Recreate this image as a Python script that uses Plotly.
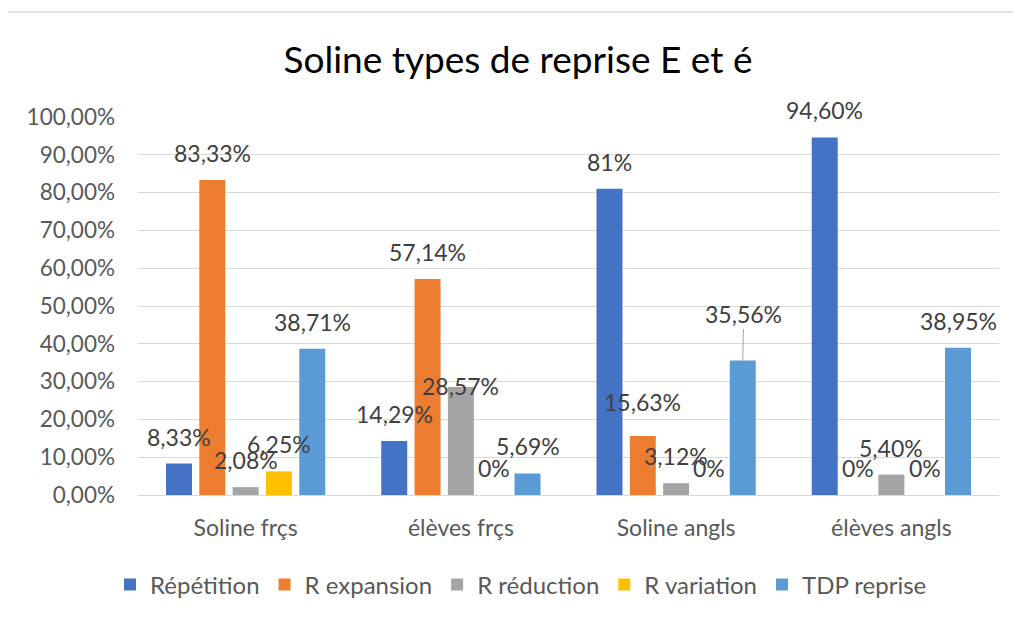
import plotly.graph_objects as go

categories = ["Soline frçs", "élèves frçs", "Soline angls", "élèves angls"]
series_names = ["Répétition", "R expansion", "R réduction", "R variation", "TDP reprise"]
repetition = [8.33, 14.29, 81.0, 94.60]
r_expansion = [83.33, 57.14, 15.63, 0.0]
r_reduction = [2.08, 28.57, 3.12, 5.40]
r_variation = [6.25, 0.0, 0.0, 0.0]
tdp_reprise = [38.71, 5.69, 35.56, 38.95]
y_ticks = [0, 10, 20, 30, 40, 50, 60, 70, 80, 90, 100]

series_values = [repetition, r_expansion, r_reduction, r_variation, tdp_reprise]
colors = ["#4472C4", "#ED7D31", "#A5A5A5", "#FFC000", "#5B9BD5"]

FONT = "Lato"
BARGAP = 0.226
GROUPGAP = 0.22
OFF = 8  # page body margin of the html page
W, H = 1021, 621


def fmt(v):
    if abs(v - round(v)) < 1e-9:
        return f"{int(round(v))}%"
    return f"{v:.2f}%".replace(".", ",")


fig = go.Figure()
for name, vals, col in zip(series_names, series_values, colors):
    fig.add_trace(go.Bar(
        name=name, x=categories, y=[v / 100 for v in vals],
        marker=dict(color=col, line=dict(width=0)),
    ))

# label offset overrides (series index, category index) -> yshift px
overrides = {(2, 1): 1, (1, 2): 34}
slot = (1 - BARGAP) / len(series_names)
label_font = dict(family=FONT, size=23, color="#404040")
annotations = []
for i, vals in enumerate(series_values):
    for k, v in enumerate(vals):
        xpos = k + (i - (len(series_names) - 1) / 2) * slot
        if (i, k) == (4, 2):
            annotations.append(dict(
                x=xpos, y=v / 100, xref="x", yref="y", text=fmt(v),
                showarrow=True, arrowhead=0, arrowwidth=1, arrowcolor="#A6A6A6",
                ax=1, ay=-47, standoff=0, font=label_font,
            ))
            continue
        annotations.append(dict(
            x=xpos, y=v / 100, xref="x", yref="y", text=fmt(v),
            showarrow=False, yanchor="middle", xanchor="center",
            yshift=overrides.get((i, k), 27), font=label_font,
        ))

# plot area in screen pixels: x 138..999, y 117..495
fig.update_layout(
    width=W, height=H,
    paper_bgcolor="white", plot_bgcolor="white",
    separators=", ",
    barmode="group", bargap=BARGAP, bargroupgap=GROUPGAP,
    margin=dict(l=138 - OFF, r=W + OFF - 999, t=117 - OFF, b=H + OFF - 495, autoexpand=False),
    title=dict(text="Soline types de reprise E et é",
               x=(518 - OFF) / W, y=1 - (60 - OFF) / H,
               xref="container", yref="container", xanchor="center", yanchor="middle",
               font=dict(family=FONT, size=37, color="#000000")),
    legend=dict(orientation="h", xref="container", yref="container",
                x=(521 - OFF) / W, y=1 - (585 - OFF) / H, xanchor="center", yanchor="middle",
                font=dict(family=FONT, size=24, color="#595959"),
                itemwidth=30, tracegroupgap=0),
    annotations=annotations,
    font=dict(family=FONT, color="#595959"),
    shapes=[dict(type="rect", xref="paper", yref="paper",
                 x0=(6 - 138) / 861, x1=(1060 - 138) / 861,
                 y0=(495 - 660) / 378, y1=(495 - 12) / 378,
                 line=dict(color="#D9D9D9", width=1.5), fillcolor="rgba(0,0,0,0)",
                 layer="below")],
)
fig.update_yaxes(range=[0, 1], tickvals=[t / 100 for t in y_ticks], tickformat=".2%",
                 showgrid=True, gridcolor="#D9D9D9", gridwidth=1, zeroline=False,
                 showline=False, ticks="", ticklabelstandoff=22,
                 tickfont=dict(family=FONT, size=22.5, color="#595959"))
fig.update_xaxes(showline=True, linecolor="#D9D9D9", linewidth=1, ticks="",
                 ticklabelstandoff=12,
                 tickfont=dict(family=FONT, size=23, color="#595959"))

fig.write_html("out.html")
